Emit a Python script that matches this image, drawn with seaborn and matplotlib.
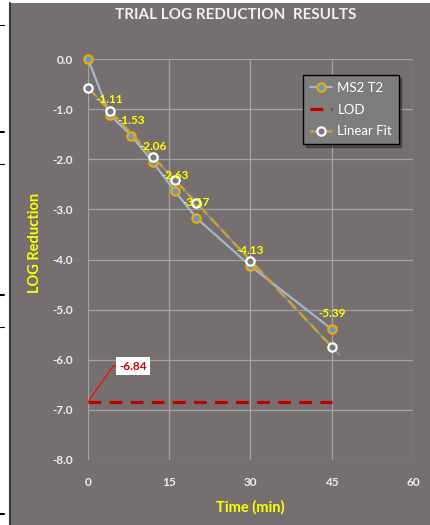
import numpy as np
import pandas as pd
import matplotlib
matplotlib.use('Agg')
import matplotlib.pyplot as plt
from matplotlib.patches import Rectangle
from matplotlib.lines import Line2D
import seaborn as sns

# Datos
time_min = [0, 4, 8, 12, 16, 20, 30, 45]
ms2_t2 = [0.0, -1.11, -1.53, -2.06, -2.63, -3.17, -4.13, -5.39]
fit_time = [0, 4, 12, 16, 20, 30, 45]
fit_vals = [-0.57, -1.03, -1.95, -2.41, -2.87, -4.02, -5.74]
fit_end = 46.5  # la linea de tendencia sigue un poco despues de 45
lod_time = [0, 45]
lod_vals = [-6.84, -6.84]
x_ticks = [0, 15, 30, 45, 60]
y_ticks = [0, -1, -2, -3, -4, -5, -6, -7, -8]

# Colores
bg = '#75706f'
yellow = '#ffff00'
blue_line = '#a3b6cc'
orange = '#f5a800'
blue_face = '#5b9bd5'
gold = '#c9a23c'
red = '#c00000'
tick_col = '#eeeeee'

df = pd.DataFrame({'t': time_min, 'ms2': ms2_t2})
df_fit = pd.DataFrame({'t': fit_time, 'fit': fit_vals})
df_lod = pd.DataFrame({'t': lod_time, 'lod': lod_vals})

sns.set_style('white')
plt.rcParams['font.family'] = ['Lato', 'DejaVu Sans']

fig = plt.figure(figsize=(4.31, 5.25), dpi=100)
fig.patch.set_facecolor('white')
# fondo gris del area del grafico y borde izquierdo
fig.add_artist(Rectangle((10 / 431, 0), 1, 1 - 3 / 525, transform=fig.transFigure,
                         facecolor=bg, edgecolor='none', zorder=-10))
fig.add_artist(Line2D([10 / 431, 10 / 431], [0, 1 - 3 / 525], transform=fig.transFigure,
                      color='#3a3a3a', lw=1.5, zorder=-9))
# marcas pequenas a la izquierda (restos de la captura)
for yy, w in [(25, 0.8), (132, 1.5), (164, 0.8), (295, 1.5), (327, 0.8), (514, 1.5)]:
    fig.add_artist(Line2D([0, 4 / 431], [1 - yy / 525] * 2, transform=fig.transFigure,
                          color='black', lw=w))

ax = fig.add_axes([88 / 431, 1 - 460 / 525, 325 / 431, 401 / 525])
ax.set_facecolor(bg)

# linea de tendencia (gris fino) extendida
coef = np.polyfit(fit_time, fit_vals, 1)
ax.plot([0, fit_end], np.polyval(coef, [0, fit_end]), color='#8e8e8e', lw=1.2, zorder=2)

# MS2 T2
sns.lineplot(data=df, x='t', y='ms2', ax=ax, color=blue_line, lw=1.6, marker='o',
             markersize=6, markeredgecolor=orange, markerfacecolor=blue_face,
             markeredgewidth=1.6, label='MS2 T2', zorder=3, clip_on=False)

# LOD
sns.lineplot(data=df_lod, x='t', y='lod', ax=ax, color=red, lw=2.3,
             dashes=False, label='LOD', zorder=3)
ax.lines[-1].set_dashes((4, 2.6))

# Linear Fit
sns.lineplot(data=df_fit, x='t', y='fit', ax=ax, color=gold, lw=1.8, marker='o',
             markersize=6, markeredgecolor='white', markerfacecolor='#7a7a7a',
             markeredgewidth=1.6, label='Linear Fit', zorder=4, clip_on=False)
ax.lines[-1].set_dashes((4.5, 2))

# etiquetas de datos
for t, v in zip(time_min[1:], ms2_t2[1:]):
    ax.annotate(f'{v:.2f}', (t, v), xytext=(0, 11), textcoords='offset points',
                ha='center', va='center', color=yellow, fontsize=8.5, fontweight='bold', zorder=6)

# etiqueta LOD con linea guia
ax.annotate(f'{lod_vals[0]:.2f}', (lod_time[0], lod_vals[0]), xytext=(8.3, -6.13),
            textcoords='data', ha='center', va='center', color=red, fontsize=8.5,
            fontweight='bold',
            bbox=dict(boxstyle='square,pad=0.3', facecolor='white', edgecolor='none'),
            arrowprops=dict(arrowstyle='-', color='#ff0000', lw=0.8, shrinkA=0, shrinkB=0,
                            connectionstyle='angle,angleA=0,angleB=55,rad=0'),
            zorder=6)

ax.set_xlim(0, 60)
ax.set_ylim(-8, 0)
ax.set_xticks(x_ticks)
ax.set_yticks(y_ticks)
ax.set_xticklabels([str(x) for x in x_ticks])
ax.set_yticklabels([f'{y:.1f}' for y in y_ticks])
ax.tick_params(axis='both', length=0, labelsize=8.5, labelcolor=tick_col)
ax.tick_params(axis='x', pad=12)
ax.tick_params(axis='y', pad=11)
for lab in ax.get_xticklabels() + ax.get_yticklabels():
    lab.set_fontweight('bold')
ax.grid(True, color='#a3a3a3', lw=0.9)
ax.set_axisbelow(True)
for s in ax.spines.values():
    s.set_visible(False)

ax.set_xlabel('Time (min)', color=yellow, fontsize=10.5, fontweight='bold')
ax.set_ylabel('LOG Reduction', color=yellow, fontsize=10.5, fontweight='bold')
ax.xaxis.set_label_coords(0.5, -0.117)
ax.yaxis.set_label_coords(-0.163, 0.541)
ax.xaxis.label.set_va('center')
ax.yaxis.label.set_va('center')

fig.text(236 / 431, 1 - 15 / 525, 'TRIAL LOG REDUCTION  RESULTS', ha='center', va='center',
         color='#f0f0f0', fontsize=11, fontweight='bold')

leg = ax.legend(loc='upper left', bbox_to_anchor=(0.6615, 0.96), borderaxespad=0,
                frameon=True, fancybox=False, shadow=True, fontsize=9.5,
                labelspacing=0.75, handlelength=1.7, borderpad=0.5, handletextpad=0.4)
leg.get_frame().set_facecolor('#7d7d7d')
leg.get_frame().set_edgecolor('black')
leg.get_frame().set_linewidth(1.0)
leg.get_frame().set_alpha(1)
for txt in leg.get_texts():
    txt.set_color('white')

fig.savefig('out.png', dpi=100, facecolor=fig.get_facecolor())
